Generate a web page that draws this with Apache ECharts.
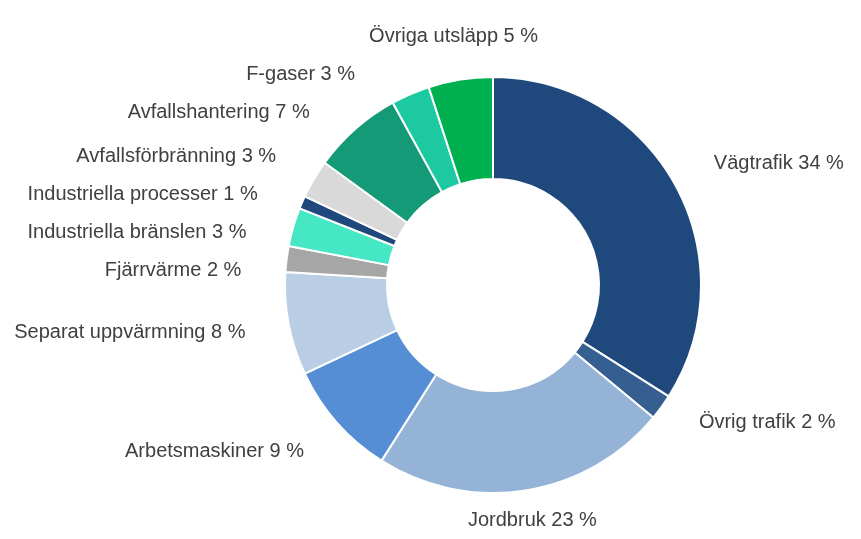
<!DOCTYPE html>
<html>
<head>
<meta charset="utf-8">
<script src="https://cdn.jsdelivr.net/npm/echarts@6/dist/echarts.min.js"></script>
<style>
  html, body { margin: 0; padding: 0; background: #fff; }
  #pieChart { width: 861px; height: 539px; }
</style>
</head>
<body>
<div id="pieChart"></div>
<script>
var pieChart = echarts.init(document.getElementById('pieChart'));

const sectors = ['Vägtrafik', 'Övrig trafik', 'Jordbruk', 'Arbetsmaskiner', 'Separat uppvärmning',
  'Fjärrvärme', 'Industriella bränslen', 'Industriella processer', 'Avfallsförbränning',
  'Avfallshantering', 'F-gaser', 'Övriga utsläpp'];
const shares = [34, 2, 23, 9, 8, 2, 3, 1, 3, 7, 3, 5];
const sectorColors = ['#1F497D', '#355F91', '#95B3D7', '#558ED5', '#B9CDE5', '#A6A6A6',
  '#45E7C4', '#1F497D', '#D9D9D9', '#159A78', '#1CC9A0', '#00B050'];

// labels of slices sitting near the top or bottom are centred, like in the original
function isVertical(idx) {
  let before = 0;
  for (let i = 0; i < idx; i++) before += shares[i];
  const total = shares.reduce((a, b) => a + b, 0);
  const mid = ((before + shares[idx] / 2) / total) * 360;
  return Math.abs(mid - 180) < 15 || mid > 345 || mid < 15;
}

const pieOption = {
  animation: false,
  series: [
    {
      type: 'pie',
      center: [493, 285],
      radius: [106, 208],
      startAngle: 90,
      clockwise: true,
      avoidLabelOverlap: true,
      itemStyle: { borderColor: '#fff', borderWidth: 2 },
      label: {
        show: true,
        position: 'outside',
        formatter: '{b} {c} %',
        fontFamily: 'Liberation Sans, Arial, sans-serif',
        fontSize: 20,
        lineHeight: 36,
        color: '#404040',
        distanceToLabelLine: 0
      },
      labelLine: { show: false, length: 44, length2: 0 },
      labelLayout: function (params) {
        if (isVertical(params.dataIndex)) return { align: 'center' };
        return {};
      },
      emphasis: { disabled: true },
      data: sectors.map((name, i) => ({
        name: name,
        value: shares[i],
        itemStyle: { color: sectorColors[i] }
      }))
    }
  ]
};

pieChart.setOption(pieOption);
</script>
</body>
</html>
